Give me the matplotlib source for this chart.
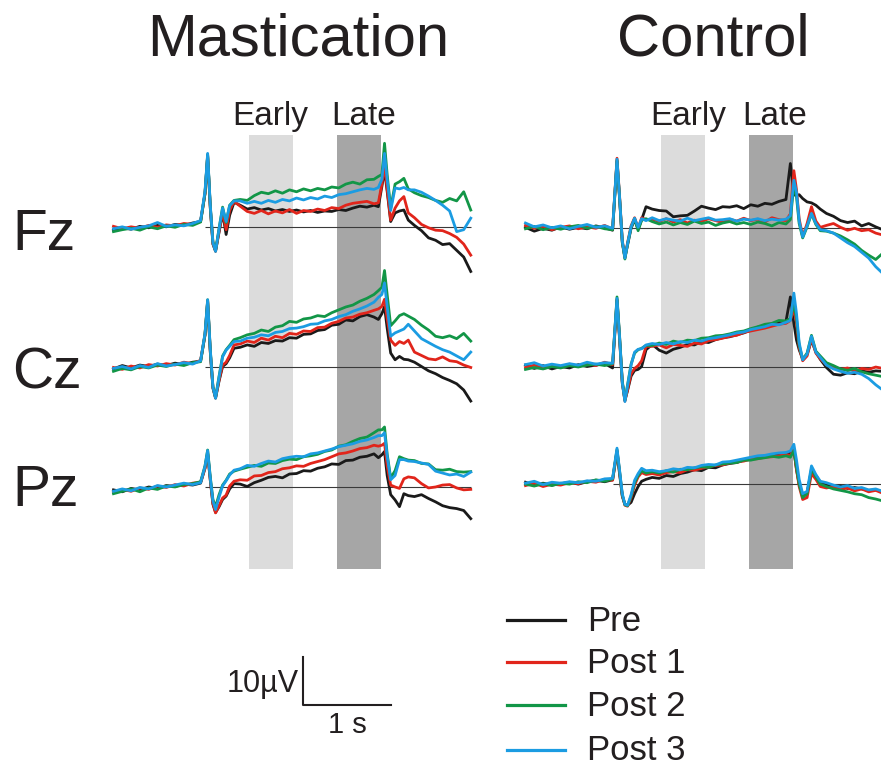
import numpy as np
import matplotlib
matplotlib.use("Agg")
import matplotlib.pyplot as plt
from matplotlib.lines import Line2D

plt.rcParams["font.family"] = ["Liberation Sans", "DejaVu Sans"]

# ── Data (µV relative to each channel's baseline, time in s from warning stimulus) ──
T = [-1.04, -0.94, -0.84, -0.74, -0.64, -0.54, -0.44, -0.34, -0.24, -0.14, -0.05,
     0.0, 0.03, 0.06, 0.09, 0.12, 0.16, 0.2, 0.24, 0.28, 0.33,
     0.40, 0.48, 0.56, 0.64, 0.72, 0.80, 0.88, 0.96, 1.04, 1.12, 1.20, 1.28, 1.36, 1.44,
     1.52, 1.60, 1.68, 1.76, 1.84, 1.92, 1.97,
     2.01, 2.04, 2.07, 2.11, 2.16, 2.21, 2.26, 2.31,
     2.38, 2.46, 2.54, 2.62, 2.70, 2.78, 2.86, 2.94, 3.02]

conditions = ["Pre", "Post 1", "Post 2", "Post 3"]
channels = ["Fz", "Cz", "Pz"]
EARLY = [0.5, 1.0]
LATE = [1.5, 2.0]

# Mastication
m_fz_pre = [-0.6, -0.1, -0.4, 0.2, -0.1, 0.4, 0.1, 0.6, 0.4, 0.9, 1.2,
            7.0, 15.0, 4.0, -3.5, -5.0, -1.0, 3.0, -1.5, 2.5, 5.2,
            4.6, 3.8, 4.1, 3.6, 3.9, 3.4, 3.7, 3.3, 3.6, 3.2, 3.5, 3.1, 3.4, 3.3, 3.7, 3.5, 4.0, 4.4, 4.2, 4.6, 4.3,
            8.5, 12.0, 7.5, 1.2, 3.0, 3.4, 3.6, 1.5,
            0.4, -0.7, -2.2, -2.7, -3.6, -3.4, -4.8, -6.2, -9.2]
m_fz_p1 = [0.2, -0.3, 0.1, -0.2, 0.4, 0.0, 0.5, 0.3, 0.8, 0.6, 1.3,
           7.0, 14.8, 4.2, -3.4, -4.9, -0.8, 3.2, -0.5, 3.5, 5.4,
           4.4, 3.3, 2.9, 3.5, 2.8, 3.4, 3.0, 3.7, 2.9, 3.5, 3.3, 3.8, 3.5, 4.1, 3.9, 4.6, 5.0, 5.2, 5.4, 4.9, 5.1,
           9.0, 13.0, 8.0, 1.5, 4.0, 5.5, 6.4, 3.0,
           2.0, 0.6, -0.1, -0.6, -0.7, -1.3, -2.1, -3.5, -5.8]
m_fz_p2 = [-0.9, -0.5, -0.2, -0.6, 0.1, -0.3, 0.3, 0.0, 0.6, 0.4, 1.1,
           7.2, 15.2, 4.5, -3.0, -4.8, -0.2, 4.2, 1.0, 4.6, 5.6,
           5.8, 5.6, 6.6, 7.3, 7.0, 7.6, 7.1, 7.8, 7.4, 8.0, 7.6, 8.1, 7.8, 8.4, 8.2, 9.0, 9.4, 9.0, 9.9, 10.0, 10.6,
           11.0, 17.5, 11.0, 4.0, 9.0, 9.5, 10.2, 8.0,
           7.2, 6.6, 6.2, 5.6, 5.2, 6.0, 5.5, 7.4, 3.6]
m_fz_p3 = [-0.3, 0.1, -0.4, 0.0, 0.3, 1.0, 0.2, 0.5, 0.3, 0.8, 1.4,
           7.5, 15.4, 4.6, -3.2, -5.0, -0.3, 4.0, 1.2, 4.5, 5.5,
           5.5, 5.0, 5.4, 5.0, 5.6, 5.2, 5.8, 5.5, 6.1, 5.7, 6.2, 5.9, 6.5, 6.2, 6.8, 7.0, 7.4, 7.8, 8.1, 7.9, 8.3,
           10.0, 15.4, 10.0, 3.5, 8.2, 8.0, 8.3, 7.8,
           7.8, 7.3, 6.5, 5.6, 4.6, 3.4, -0.9, -0.5, 1.9]

m_cz_pre = [-0.5, 0.2, -0.3, 0.3, 0.0, 0.5, 0.2, 0.7, 0.4, 0.9, 1.1,
            6.5, 13.5, 3.0, -4.5, -6.6, -3.0, 0.0, 0.6, 1.8, 3.8,
            4.0, 4.5, 4.2, 5.0, 4.8, 5.4, 5.3, 6.0, 5.9, 6.7, 6.8, 7.5, 7.7, 8.6, 8.8, 9.7, 9.5, 10.4, 10.8, 10.3, 9.8,
            11.0, 12.5, 8.0, 2.8, 1.4, 2.1, 1.5, 1.4,
            0.9, 0.0, -0.9, -1.5, -2.3, -2.9, -3.6, -4.9, -7.2]
m_cz_p1 = [-0.2, -0.6, 0.1, -0.3, 0.4, 0.1, 0.6, 0.3, 0.9, 0.6, 1.3,
           6.6, 13.7, 3.2, -4.4, -6.5, -2.8, 0.3, 0.9, 2.3, 4.5,
           4.7, 5.3, 5.0, 5.9, 5.5, 6.3, 6.0, 6.9, 6.7, 7.4, 7.3, 8.1, 8.2, 9.0, 9.4, 10.1, 10.3, 10.9, 11.2, 11.7, 12.0,
           12.5, 14.0, 10.0, 5.5, 4.4, 5.2, 4.8, 5.5,
           3.0, 2.3, 1.6, 1.4, 2.0, 1.2, 1.0, 0.3, -0.2]
m_cz_p2 = [-1.0, -0.4, -0.7, 0.0, -0.3, 0.3, 0.0, 0.5, 0.2, 0.8, 1.0,
           6.8, 13.9, 3.5, -4.2, -6.4, -2.0, 2.2, 3.5, 4.4, 5.6,
           6.0, 6.6, 6.9, 7.6, 7.3, 8.2, 8.5, 9.4, 9.2, 9.9, 10.1, 10.6, 10.4, 11.2, 11.8, 12.4, 12.8, 13.6, 14.2, 15.0, 15.8,
           16.5, 20.0, 15.0, 8.5, 9.5, 10.6, 11.0, 10.5,
           9.8, 8.6, 7.6, 6.3, 6.0, 6.4, 5.8, 6.9, 5.3]
m_cz_p3 = [-0.4, 0.0, -0.5, 0.2, -0.2, 0.6, 0.1, 0.4, 0.8, 0.5, 1.2,
           6.9, 13.9, 3.6, -4.3, -6.6, -2.2, 2.0, 3.4, 4.2, 5.2,
           5.3, 5.9, 6.1, 6.6, 6.4, 7.1, 7.3, 7.9, 8.0, 8.3, 8.8, 8.9, 9.5, 9.8, 10.4, 10.8, 11.5, 12.0, 12.6, 13.4, 14.4,
           15.0, 17.4, 12.5, 6.3, 7.0, 7.4, 7.8, 8.8,
           7.4, 5.8, 5.0, 4.2, 3.5, 3.0, 2.2, 1.4, 3.0]

m_pz_pre = [-0.5, -0.9, -0.2, -0.5, 0.1, -0.2, 0.4, 0.2, 0.7, 0.5, 0.9,
            4.0, 7.0, 1.5, -3.5, -5.2, -4.0, -2.5, -1.8, -0.3, 0.8,
            0.7, 0.2, 1.0, 1.5, 2.1, 2.3, 2.0, 2.8, 2.9, 3.5, 3.4, 4.0, 4.3, 4.9, 4.8, 5.6, 5.7, 6.3, 6.5, 7.0, 6.2,
            6.8, 7.5, 2.5, -1.5, -2.6, -4.0, -1.3, -1.7,
            -1.9, -1.5, -2.3, -3.0, -3.8, -4.2, -4.4, -4.8, -6.5]
m_pz_p1 = [-1.0, -0.4, -0.8, -0.1, -0.4, 0.3, 0.0, 0.6, 0.3, 0.9, 1.1,
           4.0, 7.2, 1.6, -3.3, -5.3, -3.8, -2.2, -1.6, 0.3, 1.3,
           1.6, 1.5, 2.4, 2.5, 3.1, 3.3, 3.9, 4.1, 4.5, 4.4, 5.0, 5.4, 5.8, 6.4, 7.0, 7.2, 7.6, 8.1, 8.3, 8.8, 8.6,
           8.8, 9.2, 4.5, 0.5, 0.1, -0.2, 1.8, 2.2,
           2.0, 0.8, -0.1, 0.1, 0.5, 0.6, -0.1, -0.5, -0.4]
m_pz_p2 = [-1.3, -0.8, -0.3, -0.9, -0.1, -0.4, 0.3, 0.1, 0.6, 0.8, 1.2,
           4.5, 7.8, 2.2, -2.5, -4.0, -1.5, 0.5, 1.5, 2.8, 3.4,
           3.8, 4.2, 4.6, 4.4, 5.1, 5.0, 5.6, 5.9, 5.8, 6.4, 6.6, 6.9, 7.5, 7.8, 8.6, 8.9, 9.6, 10.2, 10.5, 11.4, 12.0,
           12.0, 12.6, 7.0, 2.0, 3.5, 6.4, 6.0, 5.7,
           5.6, 5.0, 4.9, 3.7, 3.6, 3.8, 3.3, 3.2, 3.3]
m_pz_p3 = [-0.8, -0.3, -0.7, 0.0, -0.3, 0.4, 0.1, 0.5, 0.9, 0.6, 1.0,
           4.4, 7.7, 2.0, -2.8, -4.6, -2.0, 0.3, 1.4, 2.6, 3.6,
           3.9, 4.6, 4.4, 5.0, 5.5, 5.3, 6.0, 6.3, 6.5, 6.4, 7.0, 7.2, 7.6, 8.0, 8.5, 8.8, 9.1, 9.6, 9.9, 10.4, 10.8,
           10.8, 11.4, 6.5, 1.6, 2.5, 5.8, 5.8, 5.5,
           5.4, 5.1, 4.8, 3.4, 3.0, 2.6, 2.8, 2.3, 3.2]

# Control
c_fz_pre = [0.2, -0.6, 0.0, -0.4, 0.3, -0.2, 0.2, -0.1, 0.5, 0.1, -0.4,
            14.0, 6.0, -3.0, -6.0, -3.5, 0.0, 1.8, -0.2, 1.8, 4.5,
            4.0, 3.7, 3.6, 2.4, 2.6, 2.7, 3.6, 4.6, 4.2, 3.9, 4.5, 4.4, 4.7, 4.1, 4.9, 4.6, 5.2, 5.0, 5.6, 6.0, 13.5,
            7.0, 6.8, 7.0, 6.2, 5.5, 5.3, 4.8, 4.0,
            3.1, 2.5, 1.6, 1.2, 1.5, 0.5, 1.0, 0.3, -0.3]
c_fz_p1 = [0.6, 0.0, 0.4, -0.3, 0.2, 0.5, -0.1, 0.3, 0.0, 0.6, -0.2,
           14.6, 6.5, -2.5, -6.2, -3.0, 0.5, 2.2, 0.0, 2.2, 1.8,
           1.9, 1.4, 2.0, 1.3, 1.8, 1.1, 1.7, 1.4, 2.0, 1.6, 1.2, 1.9, 1.5, 2.1, 1.6, 1.9, 1.3, 2.2, 1.8, 1.6, 3.0,
           12.0, 8.0, 2.0, -1.7, 1.0, 4.5, 1.5, 0.2,
           0.6, 1.0, 0.2, -0.4, 0.0, -0.5, -0.3, -1.0, -1.4]
c_fz_p2 = [-0.1, 0.4, -0.3, 0.2, -0.2, 0.3, 0.6, 0.0, 0.4, -0.1, -0.3,
           14.2, 6.2, -2.8, -6.4, -3.3, 0.2, 2.0, -0.5, 1.7, 2.0,
           1.4, 0.9, 1.3, 0.7, 1.2, 0.8, 1.5, 1.0, 1.3, 0.6, 1.1, 1.4, 0.9, 1.2, 0.8, 1.3, 1.0, 0.5, 1.2, 0.9, 1.8,
           9.0, 6.5, 1.0, -2.0, 0.3, 3.0, 0.8, -0.5,
           -0.6, -1.0, -1.6, -2.4, -3.3, -4.6, -5.6, -6.5, -5.2]
c_fz_p3 = [1.1, 0.3, 0.7, 0.1, 0.5, -0.1, 0.4, 0.8, 0.2, 0.5, 0.0,
           14.4, 6.3, -2.6, -6.2, -3.2, 0.3, 2.1, 0.2, 2.0, 1.6,
           2.2, 1.6, 2.0, 1.7, 1.5, 2.1, 1.6, 1.9, 2.2, 1.7, 1.8, 2.0, 1.5, 1.9, 1.7, 2.0, 1.6, 1.9, 1.7, 1.9, 2.6,
           10.0, 7.5, 1.5, -1.8, 0.5, 3.1, 1.0, -0.3,
           -0.5, -1.0, -2.0, -3.0, -3.8, -5.0, -6.2, -8.0, -9.4]

c_cz_pre = [0.3, -0.4, 0.2, -0.5, 0.0, -0.3, 0.4, 0.0, 0.3, 0.6, -0.3,
            13.8, 5.5, -3.5, -7.0, -5.0, -2.0, -0.8, -0.6, 0.0, 3.5,
            4.6, 3.4, 2.8, 3.6, 4.0, 4.6, 4.5, 5.2, 5.0, 5.6, 6.0, 6.2, 6.6, 7.0, 7.6, 8.2, 8.5, 8.6, 9.2, 9.4, 14.5,
            9.0, 5.5, 3.5, 1.6, 2.5, 5.5, 3.0, 1.5,
            -0.2, -1.6, -1.8, -1.3, -1.5, -0.9, -1.2, -0.9, -1.0]
c_cz_p1 = [-0.2, 0.3, -0.4, 0.1, -0.2, 0.5, 0.0, 0.6, 0.2, 0.9, 0.4,
           14.0, 5.8, -3.2, -7.2, -4.8, -1.5, -0.4, 0.2, 1.2, 4.2,
           4.2, 4.5, 3.9, 4.6, 4.4, 4.2, 4.9, 4.7, 5.4, 5.6, 5.9, 6.3, 6.5, 7.1, 7.4, 7.7, 8.0, 8.4, 8.8, 9.0, 9.6,
           12.0, 9.0, 4.0, 1.2, 2.2, 5.8, 2.8, 1.6,
           0.4, -0.2, -0.6, -0.3, -1.0, -0.4, -0.6, -0.1, -0.4]
c_cz_p2 = [-0.6, -0.2, -0.5, 0.0, -0.3, 0.2, -0.1, 0.3, 0.5, 0.2, 0.6,
           14.5, 6.2, -3.0, -7.0, -3.8, 0.5, 2.8, 3.5, 3.8, 4.4,
           4.4, 4.9, 4.6, 5.3, 5.0, 5.5, 5.4, 5.9, 6.0, 6.4, 6.5, 6.8, 7.2, 7.4, 7.9, 8.3, 8.8, 9.0, 9.6, 9.5, 10.0,
           13.0, 10.0, 4.5, 1.5, 2.8, 6.5, 3.2, 2.2,
           0.8, 0.2, -0.5, -0.8, -0.4, -1.1, -1.5, -1.8, -2.1]
c_cz_p3 = [0.4, 0.8, 0.1, 0.5, 0.2, 0.6, 0.3, 0.9, 0.5, 0.8, 0.7,
           14.2, 6.0, -3.3, -7.3, -4.0, 0.3, 3.0, 3.6, 3.7, 4.5,
           4.8, 4.6, 5.0, 4.7, 5.2, 5.0, 5.5, 5.3, 5.8, 6.0, 6.3, 6.6, 7.0, 7.2, 7.7, 8.0, 8.3, 8.8, 8.7, 9.2, 9.6,
           15.3, 11.0, 5.0, 1.4, 2.6, 6.3, 3.0, 1.9,
           0.3, -0.5, -1.0, -1.4, -1.2, -1.6, -2.5, -3.8, -4.9]

c_pz_pre = [0.4, -0.3, 0.2, -0.2, 0.1, 0.4, 0.0, 0.5, 0.8, 0.5, 0.9,
            6.8, 2.0, -2.5, -4.2, -4.4, -3.8, -2.0, -0.5, 0.6, 1.0,
            1.4, 1.2, 1.8, 1.6, 2.2, 2.5, 3.0, 2.8, 3.5, 3.4, 4.0, 4.3, 4.5, 5.0, 5.2, 5.5, 5.8, 6.0, 6.3, 6.4, 6.6,
            7.0, 3.0, 0.0, -2.2, -1.8, 2.8, 1.8, 0.4,
            -0.2, -0.6, -0.4, -0.9, -0.7, -1.0, -1.3, -1.2, -1.6]
c_pz_p1 = [-0.3, 0.2, -0.5, 0.0, -0.2, 0.3, 0.1, 0.6, 0.4, 1.0, 0.8,
           7.0, 2.4, -2.4, -4.4, -4.6, -2.8, -0.2, 1.5, 2.4, 2.0,
           2.2, 1.9, 2.4, 2.6, 2.4, 3.0, 2.9, 3.3, 3.6, 3.9, 4.0, 4.4, 4.6, 4.8, 5.2, 5.3, 5.6, 5.7, 5.9, 6.2, 6.0,
           7.2, 3.0, -0.5, -3.2, -2.8, 2.2, 1.0, -0.5,
           -0.8, -0.5, -1.1, -0.8, -1.4, -1.0, -1.6, -1.3, -1.9]
c_pz_p2 = [0.0, -0.4, 0.1, -0.3, 0.2, 0.0, 0.5, 0.3, 0.9, 0.6, 1.1,
           7.2, 2.6, -2.2, -4.3, -4.5, -2.5, 0.3, 1.8, 2.8, 2.3,
           2.6, 2.3, 2.8, 2.5, 3.1, 3.0, 3.4, 3.6, 3.5, 4.0, 4.2, 4.4, 4.5, 5.0, 5.0, 5.3, 5.5, 5.8, 5.6, 5.9, 5.6,
           7.0, 3.5, 0.0, -2.8, -2.0, 3.2, 1.5, 0.0,
           -0.5, -1.0, -1.3, -1.6, -2.0, -2.2, -2.8, -3.1, -3.5]
c_pz_p3 = [0.2, 0.6, -0.1, 0.4, 0.2, 0.5, 0.3, 0.7, 0.6, 1.1, 1.2,
           7.5, 2.8, -2.0, -4.2, -4.4, -2.2, 0.8, 2.2, 3.3, 2.8,
           2.9, 2.6, 2.8, 3.2, 3.0, 3.5, 3.4, 3.9, 4.1, 4.0, 4.6, 4.7, 5.0, 5.3, 5.6, 5.9, 6.0, 6.3, 6.5, 6.6, 6.9,
           8.3, 5.0, 1.0, -2.0, -1.5, 3.8, 2.0, 0.6,
           0.3, -0.2, -0.6, -0.3, -0.9, -0.7, -1.2, -1.0, -1.5]

mastication = [[m_fz_pre, m_fz_p1, m_fz_p2, m_fz_p3],
               [m_cz_pre, m_cz_p1, m_cz_p2, m_cz_p3],
               [m_pz_pre, m_pz_p1, m_pz_p2, m_pz_p3]]
control = [[c_fz_pre, c_fz_p1, c_fz_p2, c_fz_p3],
           [c_cz_pre, c_cz_p1, c_cz_p2, c_cz_p3],
           [c_pz_pre, c_pz_p1, c_pz_p2, c_pz_p3]]

# ── Layout ──────────────────────────────────────────────────────────────────
W, H = 881, 769
PX_PER_S = 88.0
PX_PER_UV = 4.8
TXT = "#231f20"
COLORS = ["#1a1a1a", "#e1251b", "#129647", "#1b9ce2"]

fig = plt.figure(figsize=(W / 100, H / 100), dpi=100)


def panel_axes(x0, x1, t0_px, base_px):
    ax = fig.add_axes([x0 / W, 0, (x1 - x0) / W, 1])
    ax.set_xlim((x0 - t0_px) / PX_PER_S, (x1 - t0_px) / PX_PER_S)
    ax.set_ylim((base_px - H) / PX_PER_UV, base_px / PX_PER_UV)
    ax.axis("off")
    return ax


def draw_panel(ax, base_px, offsets, data, base_start):
    top = (base_px - 135) / PX_PER_UV
    bottom = (base_px - 569) / PX_PER_UV
    ax.fill_between(EARLY, bottom, top, color="#dcdcdc", lw=0, zorder=0)
    ax.fill_between(LATE, bottom, top, color="#a6a6a6", lw=0, zorder=0)
    for off, chan in zip(offsets, data):
        ax.hlines(off, base_start, T[-1], color="#3a3a3a", lw=0.8, zorder=1)
        for vals, c in zip(chan, COLORS):
            ax.plot(T, np.array(vals) + off, color=c, lw=2.0,
                    solid_joinstyle="round", zorder=2)


ax_m = panel_axes(90, 500, 205, 227.3)
draw_panel(ax_m, 227.3, [0, -29.0, -54.2], mastication, 0.0)

ax_c = panel_axes(500, 881, 617, 228.3)
draw_panel(ax_c, 228.3, [0, -28.8, -53.3], control, -0.05)

# titles and channel names
fig.text(298.5 / W, 1 - 55 / H, "Mastication", ha="center", va="baseline",
         fontsize=43, color=TXT)
fig.text(713.5 / W, 1 - 55 / H, "Control", ha="center", va="baseline",
         fontsize=43, color=TXT)
for name, yb in zip(channels, [250, 389, 506]):
    fig.text(12 / W, 1 - yb / H, name, ha="left", va="baseline", fontsize=41, color=TXT)

for xe, xl in [(232.7, 331.7), (650, 742)]:
    fig.text(xe / W, 1 - 125 / H, "Early", ha="left", va="baseline", fontsize=24, color=TXT)
    fig.text(xl / W, 1 - 125 / H, "Late", ha="left", va="baseline", fontsize=24, color=TXT)

# scale bar (10 µV, 1 s) in mastication data units
sx = (303 - 205) / PX_PER_S
sy = (227.3 - 705) / PX_PER_UV
ax_m.plot([sx, sx, sx + 1.0], [sy + 10, sy, sy], color=TXT, lw=1.5, clip_on=False)
fig.text(299 / W, 1 - 692 / H, "10\u00b5V", ha="right", va="baseline", fontsize=22, color=TXT)
fig.text(347 / W, 1 - 733 / H, "1 s", ha="center", va="baseline", fontsize=21, color=TXT)

# legend
for lab, c, yl, yt in zip(conditions, COLORS, [620, 662, 705, 750], [631, 673, 716, 760]):
    fig.add_artist(Line2D([507 / W, 565 / W], [1 - yl / H, 1 - yl / H], color=c, lw=2.3,
                          transform=fig.transFigure))
    fig.text(587 / W, 1 - yt / H, lab, ha="left", va="baseline", fontsize=25, color=TXT)

plt.savefig("out.png", dpi=100)
plt.close()
